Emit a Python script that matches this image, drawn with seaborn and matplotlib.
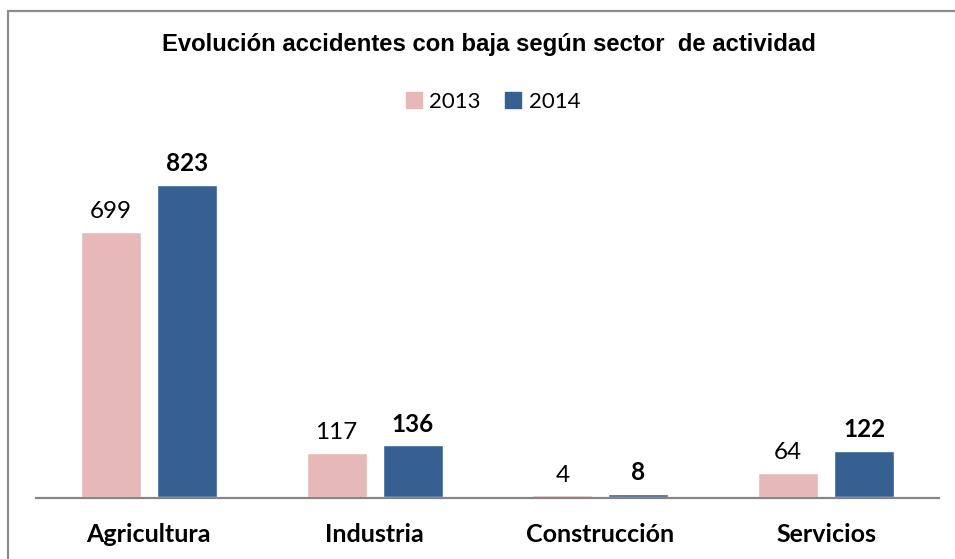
import pandas as pd
import matplotlib.pyplot as plt
import seaborn as sns
from matplotlib.patches import Rectangle

# Datos del gráfico
sectores = ["Agricultura", "Industria", "Construcción", "Servicios"]
anios = ["2013", "2014"]
valores_2013 = [699, 117, 4, 64]
valores_2014 = [823, 136, 8, 122]
colores = ["#E6B9B8", "#376092"]

df = pd.DataFrame({
    "sector": sectores * 2,
    "anio": [anios[0]] * 4 + [anios[1]] * 4,
    "accidentes": valores_2013 + valores_2014,
})

sns.set_style("white")
plt.rcParams['font.family'] = ['Lato', 'DejaVu Sans']
plt.rcParams['text.color'] = 'black'
plt.rcParams['xtick.color'] = 'black'
plt.rcParams['xtick.labelcolor'] = 'black'

fig = plt.figure(figsize=(9.55, 5.59), dpi=100)
ax = fig.add_axes([36 / 955, 1 - 498 / 559, 903 / 955, 348 / 559])

sns.barplot(data=df, x="sector", y="accidentes", hue="anio", order=sectores,
            hue_order=anios, palette=colores, width=0.673, gap=0.21,
            saturation=1, ax=ax)

ax.set_ylim(-3, 915)
ax.set_xlim(-0.5, 3.5)
ax.set_xlabel("")
ax.set_ylabel("")
ax.set_yticks([])
for s in ["top", "left", "right"]:
    ax.spines[s].set_visible(False)
ax.spines["bottom"].set_color("#868686")
ax.spines["bottom"].set_linewidth(1.6)
ax.tick_params(axis="x", length=0, pad=18, labelcolor="black")
for lab in ax.get_xticklabels():
    lab.set_fontsize(18)
    lab.set_fontweight("bold")

# Etiquetas de valores
ax.bar_label(ax.containers[0], fontsize=17.5, padding=7, color="black")
ax.bar_label(ax.containers[1], fontsize=17.5, padding=7, fontweight="bold", color="black")

# Leyenda
ax.get_legend().remove()
handles = [Rectangle((0, 0), 1, 1, color=c) for c in colores]
fig.legend(handles, anios, loc="center", bbox_to_anchor=(493 / 955, 1 - 102 / 559),
           ncol=2, frameon=False, fontsize=16, handlelength=0.7, handleheight=0.7,
           handletextpad=0.35, columnspacing=1.1, labelcolor="black")

# Título
fig.text(489 / 955, 1 - 45 / 559, "Evolución accidentes con baja según sector  de actividad",
         ha="center", va="center", fontsize=17.2, fontweight="bold", color="black",
         family=["Liberation Sans", "DejaVu Sans"])

# Borde del gráfico
fig.patches.append(Rectangle((7.5 / 955, -0.1), 1.2, 1.1 - 11.5 / 559,
                             transform=fig.transFigure, fill=False,
                             edgecolor="#8C8C8C", linewidth=1.6))

plt.savefig("out.png", dpi=100)
